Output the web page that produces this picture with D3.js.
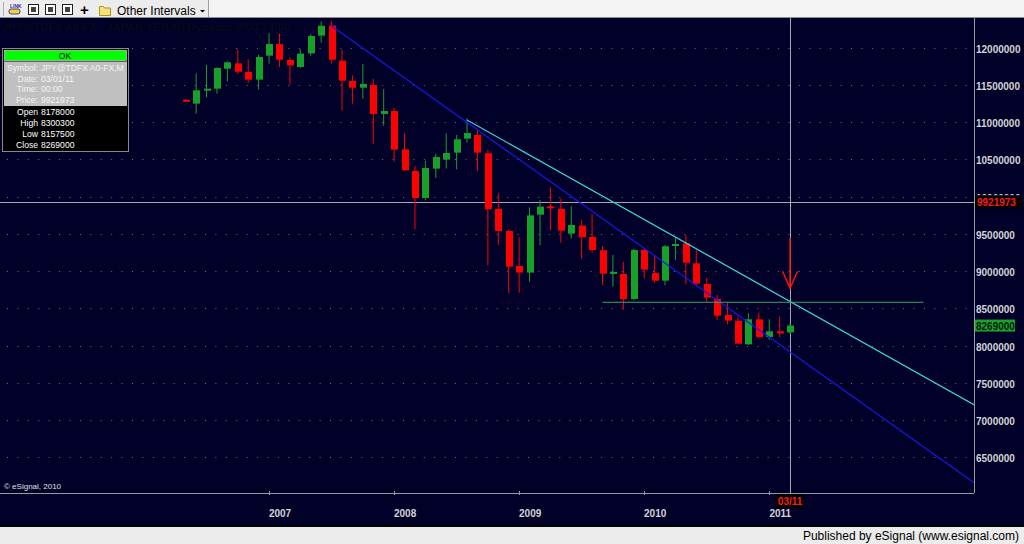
<!DOCTYPE html>
<html lang="en">
  <head>
    <meta charset="UTF-8" />
    <title>JPY monthly candles</title>
    <script src="https://d3js.org/d3.v7.min.js"></script>
    <style>
      body {
        margin: 0;
        background-color: #000028;
        font-family: "Liberation Sans", Arial, sans-serif;
      }
      svg {
        display: block;
      }
      .axis-label {
        fill: #d4d4d4;
        font-size: 10px;
        font-weight: bold;
      }
      .info text {
        font-size: 8.6px;
      }
    </style>
  </head>
  <body>
    <svg id="chart" width="1024" height="544"></svg>

    <script>
      // monthly bars, May 2006 .. March 2011
      const months = [
        "2006-05", "2006-06", "2006-07", "2006-08", "2006-09", "2006-10", "2006-11", "2006-12",
        "2007-01", "2007-02", "2007-03", "2007-04", "2007-05", "2007-06", "2007-07", "2007-08",
        "2007-09", "2007-10", "2007-11", "2007-12", "2008-01", "2008-02", "2008-03", "2008-04",
        "2008-05", "2008-06", "2008-07", "2008-08", "2008-09", "2008-10", "2008-11", "2008-12",
        "2009-01", "2009-02", "2009-03", "2009-04", "2009-05", "2009-06", "2009-07", "2009-08",
        "2009-09", "2009-10", "2009-11", "2009-12", "2010-01", "2010-02", "2010-03", "2010-04",
        "2010-05", "2010-06", "2010-07", "2010-08", "2010-09", "2010-10", "2010-11", "2010-12",
        "2011-01", "2011-02", "2011-03",
      ];
      const opens = [
        11300000, 11249000, 11423000, 11450000, 11718000, 11790000, 11674000, 11571000,
        11893000, 12050000, 11835000, 11741000, 11924000, 12162000, 12296000, 11826000,
        11553000, 11463000, 11499000, 11110000, 11150000, 10635000, 10345000, 9982000,
        10376000, 10497000, 10591000, 10779000, 10828000, 10582000, 9834000, 9539000,
        9069000, 8980000, 9758000, 9870000, 9834000, 9503000, 9611000, 9459000,
        9280000, 8966000, 8962000, 8626000, 9284000, 8975000, 8872000, 9338000,
        9373000, 9105000, 8827000, 8626000, 8411000, 8331000, 8017000, 8353000,
        8116000, 8192000, 8178000,
      ];
      const highs = [
        11310000, 11656000, 11768000, 11736000, 11817000, 11978000, 11844000, 11906000,
        12197000, 12188000, 11871000, 11983000, 12184000, 12354000, 12354000, 11974000,
        11629000, 11781000, 11580000, 11446000, 11190000, 10850000, 10412000, 10479000,
        10577000, 10850000, 10828000, 11052000, 10904000, 10631000, 10045000, 9560000,
        9454000, 9857000, 9955000, 10125000, 9973000, 9870000, 9687000, 9767000,
        9338000, 9217000, 9123000, 9297000, 9293000, 9203000, 9351000, 9463000,
        9485000, 9284000, 8908000, 8680000, 8577000, 8389000, 8434000, 8443000,
        8353000, 8389000, 8300300,
      ];
      const lows = [
        11280000, 11114000, 11334000, 11383000, 11548000, 11647000, 11526000, 11437000,
        11786000, 11741000, 11504000, 11727000, 11893000, 12068000, 11786000, 11155000,
        11249000, 11316000, 10712000, 10953000, 10474000, 10349000, 9561000, 9951000,
        10251000, 10376000, 10367000, 10725000, 10345000, 9078000, 9347000, 8702000,
        8711000, 8859000, 9347000, 9552000, 9382000, 9436000, 9168000, 9248000,
        8810000, 8792000, 8483000, 8608000, 8904000, 8841000, 8810000, 9150000,
        8823000, 8810000, 8586000, 8344000, 8286000, 8022000, 8009000, 8094000,
        8076000, 8111000, 8157500,
      ];
      const closes = [
        11290000, 11428000, 11450000, 11727000, 11804000, 11678000, 11571000, 11875000,
        12050000, 11839000, 11763000, 11920000, 12157000, 12294000, 11839000, 11557000,
        11463000, 11513000, 11110000, 11150000, 10631000, 10354000, 9982000, 10385000,
        10533000, 10586000, 10770000, 10855000, 10591000, 9830000, 9539000, 9060000,
        8980000, 9749000, 9866000, 9852000, 9544000, 9620000, 9454000, 9284000,
        8966000, 8989000, 8622000, 9284000, 9020000, 8872000, 9333000, 9365000,
        9114000, 8832000, 8644000, 8402000, 8335000, 8026000, 8353000, 8116000,
        8192000, 8170000, 8269000,
      ];

      const priceTicks = [
        6500000, 7000000, 7500000, 8000000, 8500000, 9000000, 9500000,
        10000000, 10500000, 11000000, 11500000, 12000000,
      ];

      // drawn objects: [bar index, price] anchors
      const blueTrend = [[14, 12290000], [58, 7914500]];
      const cyanTrend = [[27, 11029300], [58, 8592400]];
      const supportLine = [[40, 8582000], [70.8, 8582000]];
      const arrowMark = [58, 9445000, 8770000]; // bar, top price, tip price
      const cursorBar = 58;
      const cursorPrice = 9921973;

      const infoTop = ["Symbol: JPY@TDFX A0-FX,M", "Date: 03/01/11", "Time: 00:00", "Price: 9921973"];
      const infoOHLC = [["Open", "8178000"], ["High", "8300300"], ["Low", "8157500"], ["Close", "8269000"]];

      const svg = d3.select("#chart");
      const W = 1024, H = 544;
      const plot = { left: 0, right: 974, top: 18, bottom: 493 };

      const x = d3.scaleLinear().domain([-17.82, 75.65]).range([plot.left, plot.right]);
      const y = d3.scaleLinear().domain([6020700, 12398750]).range([plot.bottom, plot.top]);

      // background
      svg.append("rect").attr("width", W).attr("height", H).attr("fill", "#000028");

      svg.append("defs").append("clipPath").attr("id", "plotclip")
        .append("rect")
        .attr("x", plot.left).attr("y", plot.top)
        .attr("width", plot.right - plot.left).attr("height", plot.bottom - plot.top);

      // title (almost invisible on the navy)
      svg.append("text")
        .attr("x", 2).attr("y", 31)
        .attr("font-size", 11).attr("font-weight", "bold")
        .attr("fill", "#0a0a16")
        .text("JPY@TDFX A0-FX - JAPAN YEN,M] Dynamic,0:00-24:00");

      // dotted grid
      svg.append("g").selectAll("line")
        .data(priceTicks)
        .join("line")
        .attr("x1", 7).attr("x2", plot.right - 2)
        .attr("y1", (d) => Math.round(y(d)) + 0.5)
        .attr("y2", (d) => Math.round(y(d)) + 0.5)
        .attr("stroke", "#6e6e7c")
        .attr("stroke-dasharray", "1,9.42");

      const g = svg.append("g").attr("clip-path", "url(#plotclip)");

      // cursor crosshair
      g.append("line")
        .attr("x1", plot.left).attr("x2", plot.right)
        .attr("y1", Math.round(y(cursorPrice)) + 0.5).attr("y2", Math.round(y(cursorPrice)) + 0.5)
        .attr("stroke", "#a8a8a8");
      g.append("line")
        .attr("x1", Math.round(x(cursorBar)) + 0.5).attr("x2", Math.round(x(cursorBar)) + 0.5)
        .attr("y1", plot.top).attr("y2", plot.bottom)
        .attr("stroke", "#a8a8a8");

      // candles
      const candles = months.map((m, i) => ({
        i, m, o: opens[i], h: highs[i], l: lows[i], c: closes[i],
      }));
      const col = (d) => (d.c >= d.o ? "#17a02a" : "#ff0000");

      // wicks sit on the unrounded bar position, so a few of them blur like the original
      g.append("g").selectAll("line")
        .data(candles)
        .join("line")
        .attr("x1", (d) => x(d.i))
        .attr("x2", (d) => x(d.i))
        .attr("y1", (d) => y(d.h))
        .attr("y2", (d) => y(d.l))
        .attr("stroke", col);

      g.append("g").selectAll("rect")
        .data(candles)
        .join("rect")
        .attr("x", (d) => Math.round(x(d.i)) - 3)
        .attr("width", 7)
        .attr("y", (d) => y(Math.max(d.o, d.c)))
        .attr("height", (d) => Math.max(2, Math.abs(y(d.o) - y(d.c))))
        .attr("fill", col);

      // trend lines, extended to the right edge
      function extend(pts) {
        const [[i0, p0], [i1, p1]] = pts;
        const slope = (p1 - p0) / (i1 - i0);
        const iEnd = x.domain()[1] + 2;
        return [[i0, p0], [iEnd, p0 + slope * (iEnd - i0)]];
      }
      const line = d3.line().x((d) => x(d[0])).y((d) => y(d[1]));

      g.append("path").attr("d", line(extend(blueTrend)))
        .attr("fill", "none").attr("stroke", "#1818e8").attr("stroke-width", 1.2);
      g.append("path").attr("d", line(extend(cyanTrend)))
        .attr("fill", "none").attr("stroke", "#38d0d8").attr("stroke-width", 1.3);
      g.append("path").attr("d", line(supportLine))
        .attr("fill", "none").attr("stroke", "#3aa864").attr("stroke-width", 1.2);

      // red arrow
      const ax = x(arrowMark[0]);
      const tipY = y(arrowMark[2]);
      g.append("path")
        .attr("d", `M${ax},${y(arrowMark[1])}L${ax},${tipY}M${ax - 7.5},${tipY - 17}L${ax},${tipY}L${ax + 7.5},${tipY - 17}`)
        .attr("fill", "none").attr("stroke", "#ff1010").attr("stroke-width", 1.5);

      // frame
      svg.append("line")
        .attr("x1", plot.right + 0.5).attr("x2", plot.right + 0.5)
        .attr("y1", plot.top).attr("y2", plot.bottom)
        .attr("stroke", "#9a9a9a");
      svg.append("line")
        .attr("x1", 0).attr("x2", plot.right)
        .attr("y1", plot.bottom + 0.5).attr("y2", plot.bottom + 0.5)
        .attr("stroke", "#9a9a9a");

      // price axis (the cursor price box hides part of the label beside it, as in eSignal)
      svg.append("g").selectAll("text")
        .data(priceTicks.filter((d) => Math.abs(y(d) - y(cursorPrice)) > 10))
        .join("text")
        .attr("class", "axis-label")
        .attr("x", 976)
        .attr("y", (d) => y(d) + 5)
        .text((d) => d);
      svg.append("clipPath").attr("id", "tickclip")
        .append("rect").attr("x", 975).attr("y", plot.top).attr("width", 48)
        .attr("height", y(cursorPrice) - 7 - plot.top);
      svg.append("g").attr("clip-path", "url(#tickclip)").selectAll("text")
        .data(priceTicks.filter((d) => Math.abs(y(d) - y(cursorPrice)) <= 10))
        .join("text")
        .attr("class", "axis-label")
        .attr("x", 976)
        .attr("y", (d) => y(d) + 5)
        .text((d) => d);

      // time axis (January bars)
      const yearBars = candles.filter((d) => d.m.endsWith("-01"));
      svg.append("g").selectAll("line")
        .data(yearBars)
        .join("line")
        .attr("x1", (d) => Math.round(x(d.i)) + 0.5)
        .attr("x2", (d) => Math.round(x(d.i)) + 0.5)
        .attr("y1", plot.bottom - 2).attr("y2", plot.bottom + 2)
        .attr("stroke", "#9a9a9a");
      svg.append("g").selectAll("text")
        .data(yearBars)
        .join("text")
        .attr("class", "axis-label")
        .attr("x", (d) => x(d.i) + 11)
        .attr("y", 517)
        .attr("text-anchor", "middle")
        .text((d) => d.m.slice(0, 4));

      // cursor labels
      const last = candles[candles.length - 1];
      svg.append("rect").attr("x", 975).attr("y", y(cursorPrice) - 7).attr("width", 47).attr("height", 13).attr("fill", "#000");
      svg.append("text").attr("class", "axis-label").attr("x", 977).attr("y", y(cursorPrice) + 4)
        .style("fill", "#ff1a1a").text(cursorPrice);
      svg.append("rect").attr("x", 975).attr("y", y(last.c) - 6).attr("width", 40).attr("height", 12).attr("fill", "#1ea02e");
      svg.append("text").attr("class", "axis-label").attr("x", 976).attr("y", y(last.c) + 4)
        .style("fill", "#06200a").text(last.c);
      const cx = x(cursorBar);
      svg.append("rect").attr("x", cx - 14).attr("y", plot.bottom + 1).attr("width", 27).attr("height", 14).attr("fill", "#000");
      svg.append("text").attr("class", "axis-label").attr("x", cx).attr("y", plot.bottom + 12)
        .attr("text-anchor", "middle").style("fill", "#ff1a1a")
        .text(last.m.slice(5) + "/" + last.m.slice(2, 4));

      svg.append("text").attr("x", 4).attr("y", 489)
        .attr("font-size", 8).attr("fill", "#e0e0e0")
        .text("\u00a9 eSignal, 2010");

      // info box
      const info = svg.append("g").attr("class", "info");
      info.append("rect").attr("x", 2.5).attr("y", 48.5).attr("width", 126).attr("height", 103)
        .attr("fill", "#000").attr("stroke", "#8a8a8a");
      info.append("rect").attr("x", 4.5).attr("y", 50.5).attr("width", 122).attr("height", 10)
        .attr("fill", "#00ff00").attr("stroke", "#e8e8e8").attr("stroke-width", 0.6);
      info.append("text").attr("x", 65).attr("y", 59).attr("text-anchor", "middle").attr("fill", "#000").text("OK");
      info.append("rect").attr("x", 4).attr("y", 61.5).attr("width", 123).attr("height", 44.5).attr("fill", "#c0c0c0");
      info.selectAll("text.top")
        .data(infoTop)
        .join("text")
        .attr("class", "top")
        .attr("y", (d, i) => 71 + i * 10.7)
        .attr("fill", "#f4f4f4")
        .each(function (d) {
          const [k, v] = d.split(": ");
          d3.select(this).append("tspan").attr("x", 38).attr("text-anchor", "end").text(k + ":");
          d3.select(this).append("tspan").attr("x", 41).attr("text-anchor", "start").text(v);
        });
      info.selectAll("g.ohlc")
        .data(infoOHLC)
        .join("g")
        .attr("class", "ohlc")
        .each(function (d, i) {
          const r = d3.select(this);
          r.append("text").attr("x", 38).attr("y", 115 + i * 11).attr("text-anchor", "end").attr("fill", "#fff").text(d[0]);
          r.append("text").attr("x", 41).attr("y", 115 + i * 11).attr("fill", "#fff").text(d[1]);
        });

      // toolbar
      const tb = svg.append("g");
      tb.append("rect").attr("width", W).attr("height", 18).attr("fill", "#f4f4f4");
      tb.append("rect").attr("width", 208).attr("height", 17).attr("fill", "#ececec");
      tb.append("line").attr("x1", 208.5).attr("x2", 208.5).attr("y1", 0).attr("y2", 17).attr("stroke", "#a0a0a0");
      tb.append("line").attr("x1", 0).attr("x2", W).attr("y1", 17.5).attr("y2", 17.5).attr("stroke", "#8c8c8c");
      tb.append("line").attr("x1", 3.5).attr("x2", 3.5).attr("y1", 2).attr("y2", 16).attr("stroke", "#b0b0b0");
      // link icon
      tb.append("rect").attr("x", 9).attr("y", 9).attr("width", 11).attr("height", 5).attr("rx", 2)
        .attr("fill", "#f0d040").attr("stroke", "#404080");
      tb.append("text").attr("x", 10).attr("y", 8).attr("font-size", 5).attr("font-weight", "bold").attr("fill", "#3030a0").text("LINK");
      // page icons
      [28, 45, 62].forEach((px) => {
        tb.append("rect").attr("x", px + 0.5).attr("y", 4.5).attr("width", 10).attr("height", 10)
          .attr("fill", "#fff").attr("stroke", "#202020");
        tb.append("rect").attr("x", px + 3).attr("y", 7).attr("width", 5).attr("height", 5).attr("fill", "#404040");
      });
      tb.append("text").attr("x", 80).attr("y", 15).attr("font-size", 15).attr("font-weight", "bold").attr("fill", "#000").text("+");
      tb.append("path").attr("d", "M99.5,6.5h4l1,1.5h6v7.5h-11z").attr("fill", "#f6e27a").attr("stroke", "#b09020");
      tb.append("text").attr("x", 117).attr("y", 15).attr("font-size", 12).attr("fill", "#000").text("Other Intervals");
      tb.append("path").attr("d", "M200,10h5l-2.5,2.5z").attr("fill", "#000");

      // footer
      svg.append("rect").attr("x", 0).attr("y", 525).attr("width", W).attr("height", 2).attr("fill", "#000");
      svg.append("rect").attr("x", 0).attr("y", 527).attr("width", W).attr("height", 17).attr("fill", "#ececec");
      svg.append("text").attr("x", 1019).attr("y", 540).attr("text-anchor", "end")
        .attr("font-size", 12).attr("fill", "#000")
        .text("Published by eSignal (www.esignal.com)");
    </script>
  </body>
</html>
